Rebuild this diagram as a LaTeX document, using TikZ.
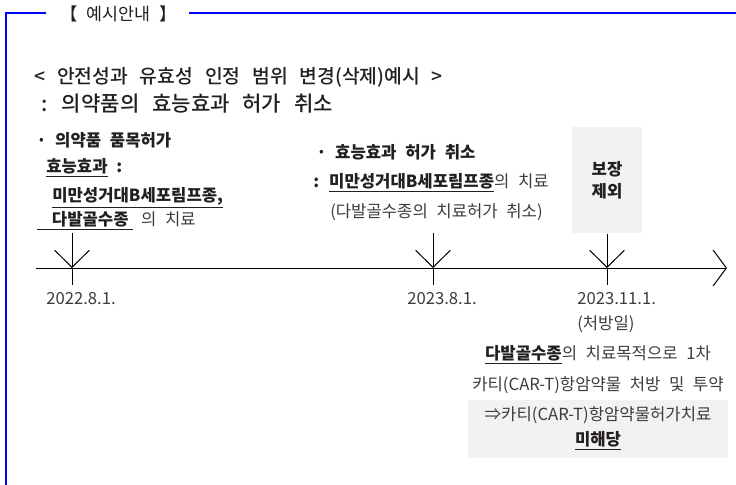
\documentclass[tikz,border=0pt]{standalone}
\usepackage{fontspec}
\setmainfont{Noto Sans CJK KR}[WordSpace=2.3]
\newfontfamily\krmed{Noto Sans CJK KR Medium}[WordSpace=2.7]
\usepackage{tikz}
\usetikzlibrary{arrows.meta,positioning}
\definecolor{frame}{HTML}{0000FF}
\definecolor{ink}{HTML}{231F20}
\definecolor{soft}{HTML}{3C3C3C}
\definecolor{shade}{HTML}{F2F2F2}

\begin{document}
\begin{tikzpicture}[x=0.75pt,y=-0.75pt,
  body/.style={inner sep=0pt,anchor=west,text=soft,font=\fontsize{12.5}{15}\selectfont},
  strong/.style={body,text=ink,font=\fontsize{12.5}{16.5}\selectfont\bfseries},
  tick/.style={line width=0.75pt,-{Straight Barb[length=12.75pt,width=26pt]}}]
  \useasboundingbox (0,0) rectangle (736,485);
  % frame with tag
  \draw[frame,line width=1.5pt] (6,485) -- (6,13.5) -- (46,13.5);
  \draw[frame,line width=1.5pt] (189,13.5) -- (737,13.5);
  \node[body,text=ink,font=\fontsize{13}{15}\selectfont] (tag) at (60,13.5) {【 예시안내 】};
  \node[body,text=ink,font=\krmed\fontsize{14.5}{17}\selectfont] (head) at (34,77) {< 안전성과 유효성 인정 범위 변경(삭제)예시 >};
  \node[body,text=ink,font=\krmed\fontsize{15.8}{18}\selectfont] (sub) at (41,104) {: 의약품의 효능효과 허가 취소};
  % first permit
  \node[strong] (permit) at (36,140) {· 의약품 품목허가};
  \node[strong] (eff) at (46,168) {\underline{효능효과} :};
  \node[strong] (dlbcl) at (52,198) {\underline{미만성거대B세포림프종,}};
  \node[body] (mm) at (37,221) {{\bfseries\color{ink}\underline{\hspace{11pt}다발골수종\hspace{3pt}}} 의 치료};
  % cancellation
  \node[strong] (cancel) at (316,152) {· 효능효과 허가 취소};
  \node[body] (keep) at (313,183) {{\bfseries\color{ink}: \underline{미만성거대B세포림프종}}의 치료};
  \node[body] (drop) at (330,212) {(다발골수종의 치료허가 취소)};
  \node[strong,anchor=north,fill=shade,minimum width=52.5pt,minimum height=79.5pt,align=center] (excl) at (607,127) {보장\\제외};
  % timeline
  \coordinate (t0) at (36,268); \coordinate (t1) at (727,268);
  \draw[line width=0.75pt,-{Straight Barb[length=10pt,width=27pt]}] (t0) -- (t1);
  \foreach \x in {72,433} {
    \draw[tick] (\x,233) -- (\x,268); \draw[line width=0.75pt] (\x,268) -- (\x,285);
  }
  \draw[tick] (excl.south) -- (607,268); \draw[line width=0.75pt] (607,268) -- (607,285);
  \node[body] (d1) at (46,299) {2022.8.1.};
  \node[body] (d2) at (407,299) {2023.8.1.};
  \node[body] (d3) at (577,299) {2023.11.1.};
  \node[body] (rxday) at (577,324) {(처방일)};
  % prescription
  \node[body,anchor=center] (purpose) at (598,355) {{\bfseries\color{ink}\underline{다발골수종}}의 치료목적으로 1차};
  \node[body,anchor=center] (cart) at (598,385) {카티(CAR-T)항암약물 처방 및 투약};
  \node[fill=shade,minimum width=195pt,minimum height=43.5pt] (verdict) at (598,429) {};
  \node[body,anchor=center] (nocover) at (598,415) {⇒카티(CAR-T)항암약물허가치료};
  \node[strong,anchor=center] (nohit) at (598,441) {\underline{미해당}};
\end{tikzpicture}
\end{document}
